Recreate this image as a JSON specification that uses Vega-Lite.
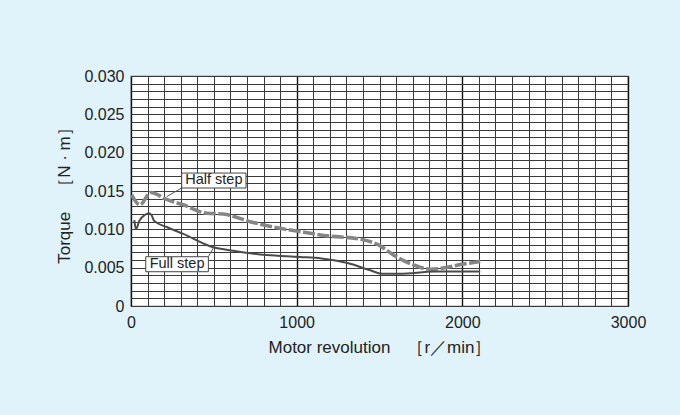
{
  "$schema": "https://vega.github.io/schema/vega-lite/v6.json",
  "width": 497,
  "height": 230,
  "autosize": {"type": "none"},
  "padding": {"left": 131, "top": 76, "right": 52, "bottom": 109},
  "background": "#e0f3fa",
  "config": {
    "font": "Liberation Sans",
    "view": {"fill": "white", "stroke": "#555", "strokeWidth": 1.2},
    "axis": {"labelColor": "#222", "titleColor": "#222", "labelFont": "Liberation Sans", "titleFont": "Liberation Sans", "titleFontWeight": "normal"}
  },
  "datasets": {
    "curves": [
      {"series": "Full step", "rpm": 20, "torque": 0.0112},
      {"series": "Full step", "rpm": 30, "torque": 0.0100},
      {"series": "Full step", "rpm": 50, "torque": 0.0111},
      {"series": "Full step", "rpm": 85, "torque": 0.0119},
      {"series": "Full step", "rpm": 110, "torque": 0.0121},
      {"series": "Full step", "rpm": 125, "torque": 0.0118},
      {"series": "Full step", "rpm": 140, "torque": 0.0111},
      {"series": "Full step", "rpm": 215, "torque": 0.0103},
      {"series": "Full step", "rpm": 316, "torque": 0.0094},
      {"series": "Full step", "rpm": 477, "torque": 0.0078},
      {"series": "Full step", "rpm": 617, "torque": 0.0072},
      {"series": "Full step", "rpm": 819, "torque": 0.00665},
      {"series": "Full step", "rpm": 1020, "torque": 0.0064},
      {"series": "Full step", "rpm": 1150, "torque": 0.0062},
      {"series": "Full step", "rpm": 1307, "torque": 0.0056},
      {"series": "Full step", "rpm": 1439, "torque": 0.0047},
      {"series": "Full step", "rpm": 1517, "torque": 0.0042},
      {"series": "Full step", "rpm": 1622, "torque": 0.0042},
      {"series": "Full step", "rpm": 1832, "torque": 0.0045},
      {"series": "Full step", "rpm": 2108, "torque": 0.0045},
      {"series": "Half step", "rpm": 4, "torque": 0.0145},
      {"series": "Half step", "rpm": 54, "torque": 0.0132},
      {"series": "Half step", "rpm": 119, "torque": 0.0148},
      {"series": "Half step", "rpm": 215, "torque": 0.0139},
      {"series": "Half step", "rpm": 316, "torque": 0.0132},
      {"series": "Half step", "rpm": 457, "torque": 0.0121},
      {"series": "Half step", "rpm": 557, "torque": 0.0120},
      {"series": "Half step", "rpm": 718, "torque": 0.0110},
      {"series": "Half step", "rpm": 859, "torque": 0.0103},
      {"series": "Half step", "rpm": 1020, "torque": 0.0097},
      {"series": "Half step", "rpm": 1202, "torque": 0.0091},
      {"series": "Half step", "rpm": 1360, "torque": 0.0088},
      {"series": "Half step", "rpm": 1491, "torque": 0.0080},
      {"series": "Half step", "rpm": 1596, "torque": 0.0065},
      {"series": "Half step", "rpm": 1701, "torque": 0.0054},
      {"series": "Half step", "rpm": 1806, "torque": 0.0048},
      {"series": "Half step", "rpm": 1885, "torque": 0.00495},
      {"series": "Half step", "rpm": 1990, "torque": 0.0054},
      {"series": "Half step", "rpm": 2108, "torque": 0.0058}
    ],
    "boxes": [
      {"label": "Half step", "rpm": 306, "rpm2": 694, "torque": 0.01539, "torque2": 0.01734},
      {"label": "Full step", "rpm": 89, "rpm2": 467, "torque": 0.00447, "torque2": 0.00643}
    ],
    "leaders": [
      {"label": "Half step", "rpm": 306, "torque": 0.01539, "rpm2": 215, "torque2": 0.01426},
      {"label": "Full step", "rpm": 467, "torque": 0.00643, "rpm2": 507, "torque2": 0.00795}
    ],
    "texts": [
      {"label": "Half step", "rpm": 500, "torque": 0.01637},
      {"label": "Full step", "rpm": 278, "torque": 0.00545}
    ]
  },
  "encoding": {
    "x": {
      "field": "rpm", "type": "quantitative",
      "scale": {"domain": [0, 3000], "nice": false},
      "axis": {
        "values": [0,100,200,300,400,500,600,700,800,900,1000,1100,1200,1300,1400,1500,1600,1700,1800,1900,2000,2100,2200,2300,2400,2500,2600,2700,2800,2900,3000],
        "labelExpr": "datum.value % 1000 === 0 ? format(datum.value, 'd') : ''",
        "labelOverlap": false,
        "grid": true,
        "gridColor": {"condition": {"test": "datum.value % 1000 === 0", "value": "#111"}, "value": "#3a3a3a"},
        "gridWidth": {"condition": {"test": "datum.value % 1000 === 0", "value": 1.4}, "value": 1},
        "gridOpacity": 1,
        "ticks": false, "domain": false,
        "labelFontSize": 16, "labelPadding": 8, "labelFlush": false,
        "title": "Motor revolution　［r／min］", "titleFontSize": 17, "titlePadding": 9
      }
    },
    "y": {
      "field": "torque", "type": "quantitative",
      "scale": {"domain": [0, 0.03], "nice": false},
      "axis": {
        "values": [0,0.001,0.002,0.003,0.004,0.005,0.006,0.007,0.008,0.009,0.010,0.011,0.012,0.013,0.014,0.015,0.016,0.017,0.018,0.019,0.020,0.021,0.022,0.023,0.024,0.025,0.026,0.027,0.028,0.029,0.030],
        "labelExpr": "round(datum.value * 1000) % 5 === 0 ? (datum.value === 0 ? '0' : format(datum.value, '.3f')) : ''",
        "labelOverlap": false,
        "grid": true, "gridColor": "#3a3a3a", "gridWidth": 1, "gridOpacity": 1,
        "ticks": false, "domain": false,
        "labelFontSize": 16, "labelPadding": 7, "labelFlush": false,
        "title": "Torque　［N · m］", "titleFontSize": 17, "titlePadding": 10
      }
    }
  },
  "layer": [
    {
      "data": {"name": "curves"},
      "transform": [{"filter": "datum.series === 'Half step'"}],
      "mark": {"type": "line", "color": "#858585", "strokeWidth": 3.6, "strokeDash": [12, 2.5], "interpolate": "monotone"}
    },
    {
      "data": {"name": "curves"},
      "transform": [{"filter": "datum.series === 'Full step'"}],
      "mark": {"type": "line", "color": "#4a4a4a", "strokeWidth": 2, "interpolate": "monotone"}
    },
    {
      "data": {"name": "leaders"},
      "mark": {"type": "rule", "color": "#555", "strokeWidth": 1},
      "encoding": {
        "x2": {"field": "rpm2"},
        "y2": {"field": "torque2"}
      }
    },
    {
      "data": {"name": "boxes"},
      "mark": {"type": "rect", "fill": "white", "stroke": "#444", "strokeWidth": 1},
      "encoding": {
        "x2": {"field": "rpm2"},
        "y2": {"field": "torque2"}
      }
    },
    {
      "data": {"name": "texts"},
      "mark": {"type": "text", "fontSize": 14.5, "color": "#222", "font": "Liberation Sans"},
      "encoding": {
        "text": {"field": "label"}
      }
    }
  ]
}
